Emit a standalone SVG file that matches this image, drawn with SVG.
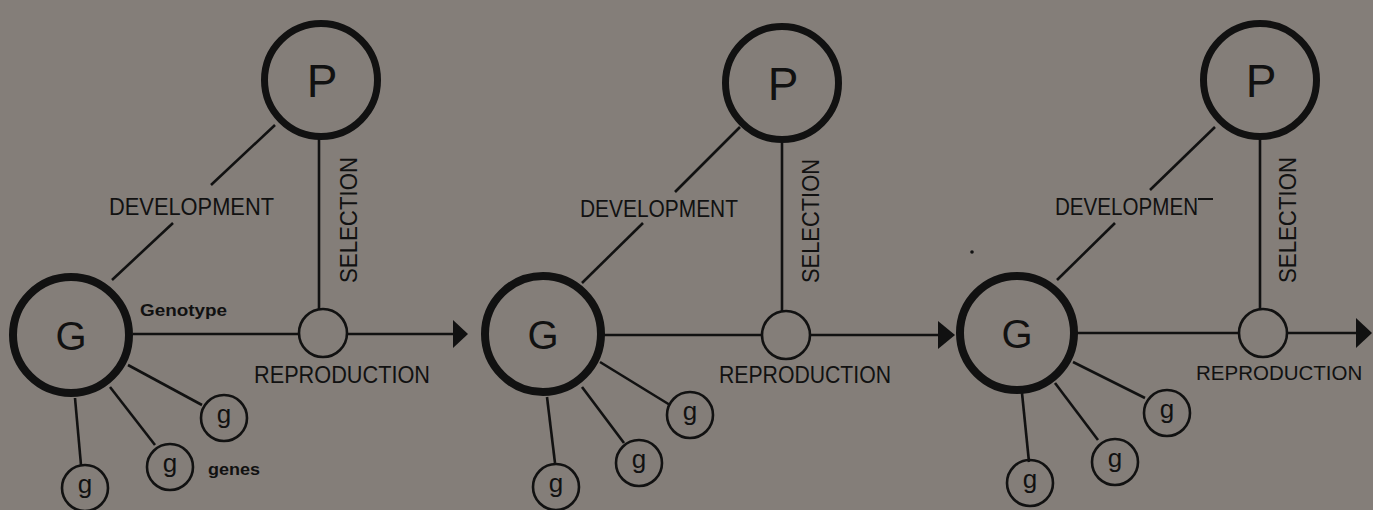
<svg xmlns="http://www.w3.org/2000/svg" width="1373" height="510" viewBox="0 0 1373 510">
<style>
.big{fill:none;stroke:#111;stroke-width:7}
.gbig{fill:none;stroke:#111;stroke-width:8}
.sm{fill:none;stroke:#111;stroke-width:2.6}
.ln{fill:none;stroke:#111;stroke-width:2.6}
.ah{fill:#111}
.lbl{font-family:"Liberation Sans",Arial,sans-serif;font-size:23px;fill:#111}
.letP{font-family:"Liberation Sans",Arial,sans-serif;font-size:46px;fill:#111;text-anchor:middle}
.letG{font-family:"Liberation Sans",Arial,sans-serif;font-size:40px;fill:#111;text-anchor:middle}
.letg{font-family:"Liberation Sans",Arial,sans-serif;font-size:26px;fill:#111;text-anchor:middle}
.note{font-family:"Liberation Sans",Arial,sans-serif;font-size:16px;font-weight:bold;fill:#111}
</style>
<rect x="0" y="0" width="1373" height="510" fill="#847e79"/>

<g id="connectors">
  <!-- panel 1 -->
  <line class="ln" x1="112" y1="280" x2="173" y2="223"/>
  <line class="ln" x1="211" y1="185" x2="275" y2="125"/>
  <line class="ln" x1="319" y1="137" x2="319" y2="309"/>
  <line class="ln" x1="133" y1="334" x2="299" y2="334"/>
  <line class="ln" x1="348" y1="334" x2="456" y2="334"/>
  <polygon class="ah" points="453,320 468,334 453,348"/>
  <line class="ln" x1="128" y1="365" x2="202" y2="405"/>
  <line class="ln" x1="110" y1="387" x2="155" y2="445"/>
  <line class="ln" x1="75" y1="398" x2="81" y2="465"/>
  <!-- panel 2 -->
  <line class="ln" x1="582" y1="283" x2="643" y2="223"/>
  <line class="ln" x1="675" y1="192" x2="740" y2="127"/>
  <line class="ln" x1="782" y1="143" x2="782" y2="311"/>
  <line class="ln" x1="604" y1="335" x2="762" y2="335"/>
  <line class="ln" x1="811" y1="335" x2="941" y2="335"/>
  <polygon class="ah" points="938,321 955,335 938,349"/>
  <line class="ln" x1="600" y1="362" x2="670" y2="405"/>
  <line class="ln" x1="582" y1="387" x2="624" y2="443"/>
  <line class="ln" x1="547" y1="397" x2="555" y2="463"/>
  <!-- panel 3 -->
  <line class="ln" x1="1057" y1="280" x2="1115" y2="223"/>
  <line class="ln" x1="1150" y1="190" x2="1215" y2="127"/>
  <line class="ln" x1="1260" y1="138" x2="1260" y2="309"/>
  <line class="ln" x1="1077" y1="333" x2="1239" y2="333"/>
  <line class="ln" x1="1288" y1="333" x2="1359" y2="333"/>
  <polygon class="ah" points="1356,318 1372,333 1356,348"/>
  <line class="ln" x1="1073" y1="362" x2="1145" y2="398"/>
  <line class="ln" x1="1055" y1="383" x2="1098" y2="440"/>
  <line class="ln" x1="1022" y1="393" x2="1029" y2="462"/>
</g>

<!-- panel 1 nodes -->
<g id="p1-P"><circle class="big" cx="321" cy="80" r="56.5"/><text class="letP" x="322" y="97">P</text></g>
<g id="p1-G"><circle class="gbig" cx="71" cy="335" r="58"/><text class="letG" x="71" y="350">G</text></g>
<g id="p1-R"><circle class="sm" cx="323" cy="333" r="24"/></g>
<g id="p1-g1"><circle class="sm" cx="224" cy="418" r="23"/><text class="letg" x="224" y="423">g</text></g>
<g id="p1-g2"><circle class="sm" cx="170" cy="467" r="23"/><text class="letg" x="170" y="472">g</text></g>
<g id="p1-g3"><circle class="sm" cx="85" cy="488" r="23"/><text class="letg" x="85" y="493">g</text></g>
<g id="p1-labels">
  <text class="lbl" x="109" y="215" textLength="165" lengthAdjust="spacingAndGlyphs">DEVELOPMENT</text>
  <text class="lbl" transform="translate(357,220) rotate(-90)" x="-63" y="0" textLength="126" lengthAdjust="spacingAndGlyphs">SELECTION</text>
  <text class="lbl" x="254" y="383" textLength="176" lengthAdjust="spacingAndGlyphs">REPRODUCTION</text>
  <text class="note" x="140" y="316" textLength="87" lengthAdjust="spacingAndGlyphs">Genotype</text>
  <text class="note" x="208" y="475" textLength="52" lengthAdjust="spacingAndGlyphs">genes</text>
</g>

<!-- panel 2 nodes -->
<g id="p2-P"><circle class="big" cx="782" cy="83" r="56.5"/><text class="letP" x="783" y="100">P</text></g>
<g id="p2-G"><circle class="gbig" cx="543" cy="334" r="58"/><text class="letG" x="543" y="349">G</text></g>
<g id="p2-R"><circle class="sm" cx="786" cy="335" r="24"/></g>
<g id="p2-g1"><circle class="sm" cx="690" cy="415" r="23"/><text class="letg" x="690" y="420">g</text></g>
<g id="p2-g2"><circle class="sm" cx="639" cy="463" r="23"/><text class="letg" x="639" y="468">g</text></g>
<g id="p2-g3"><circle class="sm" cx="556" cy="487" r="23"/><text class="letg" x="556" y="492">g</text></g>
<g id="p2-labels">
  <text class="lbl" x="580" y="217" textLength="158" lengthAdjust="spacingAndGlyphs">DEVELOPMENT</text>
  <text class="lbl" transform="translate(819,221) rotate(-90)" x="-62" y="0" textLength="124" lengthAdjust="spacingAndGlyphs">SELECTION</text>
  <text class="lbl" x="719" y="383" textLength="172" lengthAdjust="spacingAndGlyphs">REPRODUCTION</text>
</g>

<!-- panel 3 nodes -->
<g id="p3-P"><circle class="big" cx="1260" cy="80" r="56.5"/><text class="letP" x="1261" y="97">P</text></g>
<g id="p3-G"><circle class="gbig" cx="1017" cy="333" r="57"/><text class="letG" x="1017" y="348">G</text></g>
<g id="p3-R"><circle class="sm" cx="1263" cy="333" r="24"/></g>
<g id="p3-g1"><circle class="sm" cx="1167" cy="413" r="23"/><text class="letg" x="1167" y="418">g</text></g>
<g id="p3-g2"><circle class="sm" cx="1115" cy="462" r="23"/><text class="letg" x="1115" y="467">g</text></g>
<g id="p3-g3"><circle class="sm" cx="1030" cy="483" r="23"/><text class="letg" x="1030" y="488">g</text></g>
<g id="p3-labels">
  <text class="lbl" x="1055" y="215" textLength="143" lengthAdjust="spacingAndGlyphs">DEVELOPMEN</text>
  <line x1="1198" y1="199" x2="1213" y2="199" stroke="#111" stroke-width="2"/>
  <text class="lbl" transform="translate(1296,220) rotate(-90)" x="-63" y="0" textLength="126" lengthAdjust="spacingAndGlyphs">SELECTION</text>
  <text class="lbl" x="1196" y="380" style="font-size:20.5px">REPRODUCTION</text>
  <circle cx="972" cy="252" r="1.8" fill="#111"/>
</g>
</svg>
